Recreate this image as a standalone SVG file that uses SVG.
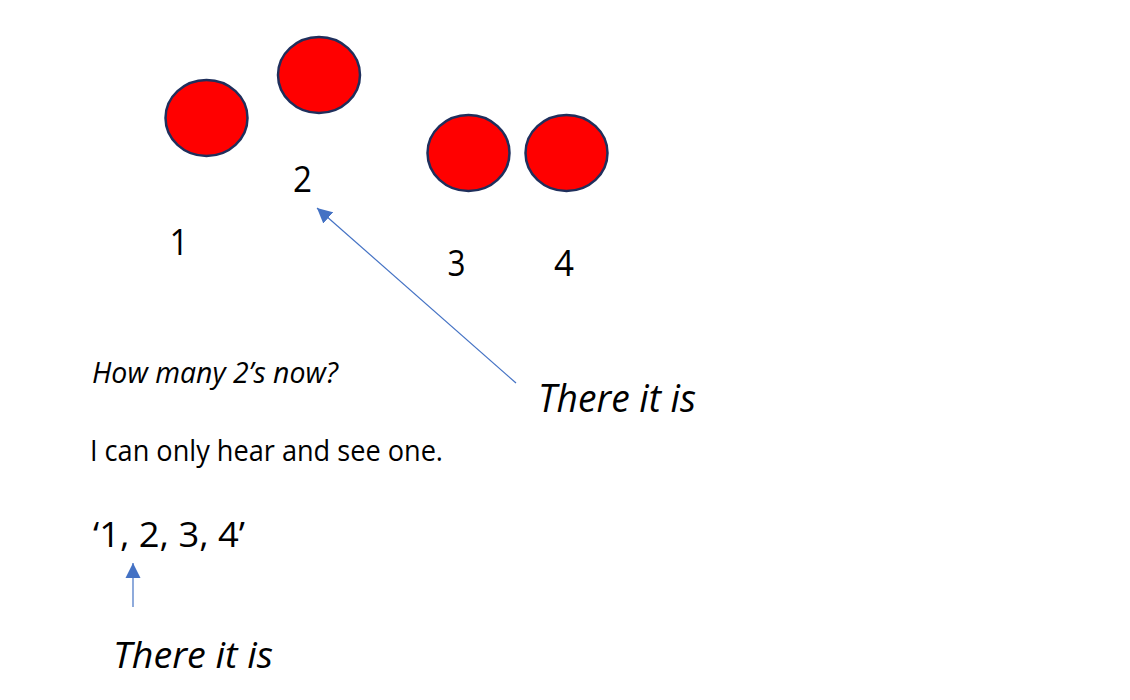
<svg xmlns="http://www.w3.org/2000/svg" width="1130" height="700" viewBox="0 0 1130 700">
<style>
.dot{fill:#FF0000;stroke:#1F2F5C;stroke-width:2.5}
.t{font-family:"Open Sans","Noto Sans","Liberation Sans",sans-serif;fill:#000}
.num{font-size:36px;text-anchor:middle}
.it{font-style:italic}
.conn{stroke:#4472C4;stroke-width:1.2;fill:none}
</style>
<defs>
<marker id="ah" markerUnits="userSpaceOnUse" markerWidth="16" markerHeight="16" refX="15" refY="8" orient="auto">
<path d="M0,0.5 L15,8 L0,15.5 Z" fill="#4472C4"/>
</marker>
</defs>
<rect width="1130" height="700" fill="#fff"/>
<g id="ball1"><ellipse class="dot" cx="206.5" cy="118" rx="41" ry="38"/><text class="t num" x="179" y="255" textLength="19" lengthAdjust="spacingAndGlyphs">1</text></g>
<g id="ball2"><ellipse class="dot" cx="319" cy="75" rx="41" ry="38"/><text class="t num" x="302.5" y="192" textLength="19" lengthAdjust="spacingAndGlyphs">2</text></g>
<g id="ball3"><ellipse class="dot" cx="468.5" cy="153" rx="41" ry="38"/><text class="t num" x="456.5" y="276" textLength="18" lengthAdjust="spacingAndGlyphs">3</text></g>
<g id="ball4"><ellipse class="dot" cx="566.5" cy="153" rx="41" ry="38"/><text class="t num" x="564" y="276" textLength="20" lengthAdjust="spacingAndGlyphs">4</text></g>
<g id="question"><text class="t it" x="92" y="383" font-size="30" textLength="246" lengthAdjust="spacingAndGlyphs">How many 2’s now?</text></g>
<g id="answer"><text class="t" x="90" y="461" font-size="30" textLength="353" lengthAdjust="spacingAndGlyphs">I can only hear and see one.</text></g>
<g id="count"><text class="t" x="93" y="547" font-size="35" textLength="152" lengthAdjust="spacingAndGlyphs">‘1, 2, 3, 4’</text></g>
<g id="note1"><text class="t it" x="538" y="412" font-size="38" textLength="158" lengthAdjust="spacingAndGlyphs">There it is</text></g>
<g id="note2"><text class="t it" x="113" y="668" font-size="37" textLength="160" lengthAdjust="spacingAndGlyphs">There it is</text></g>
<g id="connectors">
<line class="conn" x1="516" y1="383" x2="317" y2="208" marker-end="url(#ah)"/>
<line class="conn" x1="133" y1="607" x2="133" y2="563" marker-end="url(#ah)"/>
</g>
</svg>
